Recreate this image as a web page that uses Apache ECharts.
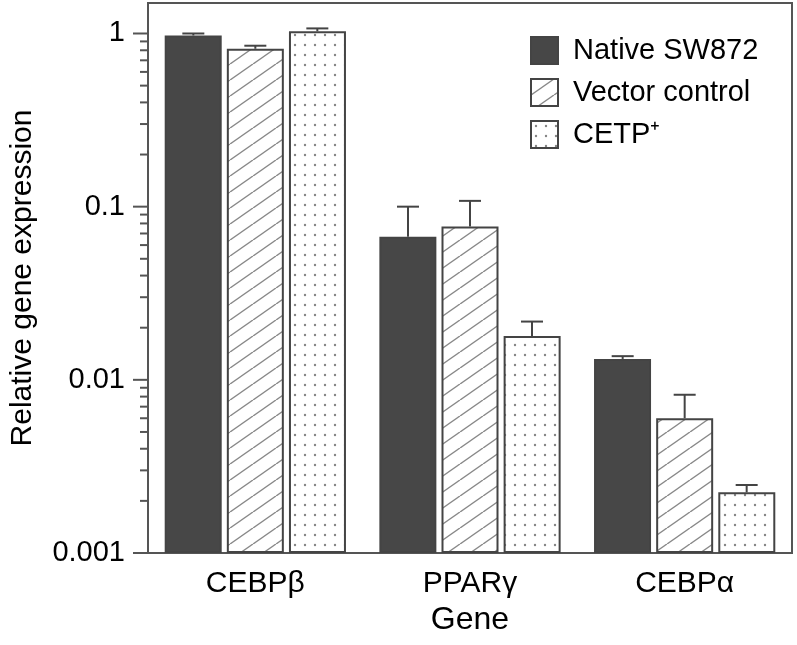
<!DOCTYPE html>
<html>
<head>
<meta charset="utf-8">
<script src="https://cdn.jsdelivr.net/npm/echarts@6/dist/echarts.min.js"></script>
<style>
  html, body { margin: 0; padding: 0; background: #fff; }
  #chart { width: 797px; height: 645px; }
</style>
</head>
<body>
<div id="chart"></div>
<script>
// data
const genes = ["CEBPβ", "PPARγ", "CEBPα"];
const seriesNames = ["Native SW872", "Vector control", "CETP⁺"];
const nativeVals = [0.974, 0.067, 0.0132];
const nativeErr = [1.0, 0.1, 0.0137];
const vectorVals = [0.816, 0.0767, 0.006];
const vectorErr = [0.85, 0.108, 0.0082];
const cetpVals = [1.03, 0.0179, 0.00224];
const cetpErr = [1.07, 0.0217, 0.00247];
const majorTicks = [0.001, 0.01, 0.1, 1];
const majorLabels = ["0.001", "0.01", "0.1", "1"];
const minorSteps = [2, 3, 4, 5, 6, 7, 8, 9];

const FONT = "Liberation Sans";
const INK = "#444";

// fill patterns
function hatchPattern() {
  const w = 23, h = 16;
  const c = document.createElement("canvas");
  c.width = w; c.height = h;
  const ctx = c.getContext("2d");
  ctx.fillStyle = "#fff";
  ctx.fillRect(0, 0, w, h);
  ctx.strokeStyle = "#888";
  ctx.lineWidth = 1.4;
  [-w, 0, w].forEach((dx) => {
    ctx.beginPath();
    ctx.moveTo(dx, h);
    ctx.lineTo(dx + w, 0);
    ctx.stroke();
  });
  return c;
}
function dotPattern() {
  const s = 10;
  const c = document.createElement("canvas");
  c.width = s; c.height = s;
  const ctx = c.getContext("2d");
  ctx.fillStyle = "#fff";
  ctx.fillRect(0, 0, s, s);
  ctx.fillStyle = "#858585";
  ctx.beginPath();
  ctx.arc(s / 2, s / 2, 1.2, 0, Math.PI * 2);
  ctx.fill();
  return c;
}

const BAR_W = 57;
const BAR_STEP = 62;

function errSeries(vals, errs, idx) {
  return {
    type: "custom",
    z: 5,
    data: vals.map((v, i) => [i, v, errs[i]]),
    encode: { x: 0, y: [1, 2] },
    renderItem: function (params, api) {
      const top = api.coord([api.value(0), api.value(1)]);
      const up = api.coord([api.value(0), api.value(2)]);
      const x = top[0] + (idx - 1) * BAR_STEP;
      const style = { stroke: INK, lineWidth: 2 };
      return {
        type: "group",
        children: [
          { type: "line", shape: { x1: x, y1: top[1], x2: x, y2: up[1] }, style },
          { type: "line", shape: { x1: x - 11, y1: up[1], x2: x + 11, y2: up[1] }, style },
        ],
      };
    },
  };
}

// y-axis ticks: majors and 2..9 minors of each decade
const tickData = [];
majorTicks.forEach((t) => tickData.push([0, t, 15]));
majorTicks.slice(0, 3).forEach((t) => minorSteps.forEach((m) => tickData.push([0, t * m, 8])));

const chart = echarts.init(document.getElementById("chart"));
chart.setOption({
  animation: false,
  textStyle: { fontFamily: FONT },
  grid: {
    left: 148, right: 5, top: 3, bottom: 92,
    show: true, borderColor: "#555", borderWidth: 2,
  },
  legend: {
    orient: "vertical",
    left: 525, top: 31,
    itemWidth: 27, itemHeight: 27, itemGap: 13,
    icon: "rect",
    data: seriesNames,
    textStyle: { fontSize: 29, color: "#000", fontFamily: FONT, padding: [0, 0, 0, 10] },
  },
  xAxis: {
    type: "category",
    data: genes,
    name: "Gene",
    nameLocation: "middle",
    nameGap: 37,
    nameTextStyle: { fontSize: 32, color: "#000", fontFamily: FONT },
    axisLine: { lineStyle: { color: "#555", width: 2 } },
    axisTick: { length: 15, lineStyle: { color: "#555", width: 2 } },
    axisLabel: { fontSize: 30, color: "#000", margin: 16, fontFamily: FONT },
  },
  yAxis: {
    type: "log",
    logBase: 10,
    min: 0.001,
    max: 1.5,
    startValue: 0.001,
    name: "Relative gene expression",
    nameLocation: "middle",
    nameGap: 110,
    nameTextStyle: { fontSize: 30, color: "#000", fontFamily: FONT },
    axisLine: { show: true, lineStyle: { color: "#555", width: 2 } },
    axisTick: { show: false },
    splitLine: { show: false },
    axisLabel: {
      fontSize: 29, color: "#000", margin: 23, fontFamily: FONT,
      showMaxLabel: false,
      formatter: function (v) {
        const i = majorTicks.findIndex((t) => Math.abs(v / t - 1) < 1e-6);
        return i >= 0 ? majorLabels[i] : "";
      },
    },
  },
  series: [
    {
      name: seriesNames[0], type: "bar", data: nativeVals,
      barWidth: BAR_W, barGap: "9%",
      itemStyle: { color: "#474747", borderColor: INK, borderWidth: 2 },
    },
    {
      name: seriesNames[1], type: "bar", data: vectorVals,
      barWidth: BAR_W, barGap: "9%",
      itemStyle: { color: { image: hatchPattern(), repeat: "repeat" }, borderColor: INK, borderWidth: 2 },
    },
    {
      name: seriesNames[2], type: "bar", data: cetpVals,
      barWidth: BAR_W, barGap: "9%",
      itemStyle: { color: { image: dotPattern(), repeat: "repeat" }, borderColor: INK, borderWidth: 2 },
    },
    errSeries(nativeVals, nativeErr, 0),
    errSeries(vectorVals, vectorErr, 1),
    errSeries(cetpVals, cetpErr, 2),
    {
      type: "custom",
      silent: true,
      data: tickData,
      encode: { x: 0, y: 1 },
      renderItem: function (params, api) {
        const y = api.coord([0, api.value(1)])[1];
        const x0 = params.coordSys.x;
        return {
          type: "line",
          shape: { x1: x0 - api.value(2), y1: y, x2: x0, y2: y },
          style: { stroke: "#555", lineWidth: 2 },
        };
      },
    },
  ],
});
</script>
</body>
</html>
